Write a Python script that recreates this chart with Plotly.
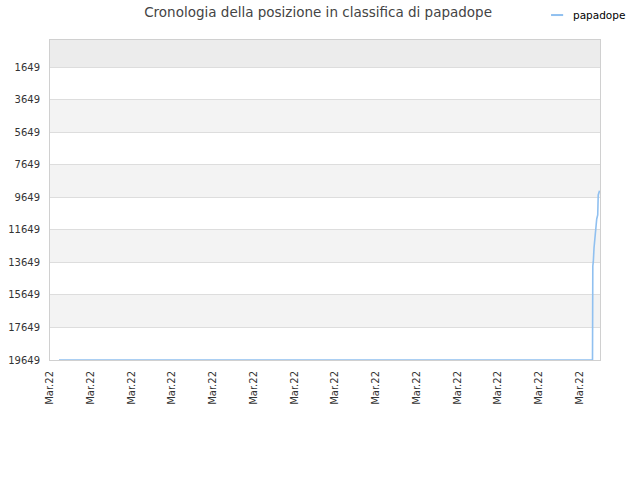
import plotly.graph_objects as go

dates = ["2022-03-01 10:36", "2022-03-27 15:10", "2022-03-27 15:32", "2022-03-27 16:08",
         "2022-03-27 16:57", "2022-03-27 18:07", "2022-03-27 18:57", "2022-03-27 20:08",
         "2022-03-27 21:19", "2022-03-27 21:55", "2022-03-27 23:27"]
ranks = [19649, 19649, 13873, 13609, 12768, 11969, 11459, 10986, 10740, 9512, 9248]
tick_vals = [1649, 3649, 5649, 7649, 9649, 11649, 13649, 15649, 17649, 19649]
tick_text = [str(v) for v in tick_vals]
series_name = "papadope"
line_color = "#90c0f0"

fig = go.Figure()

# alternating bands
shapes = []
shapes.append(dict(type="rect", xref="paper", yref="y", x0=0, x1=1, y0=-10, y1=1649,
                   fillcolor="#ececec", line_width=0, layer="below"))
for i in range(1, len(tick_vals) - 1, 2):
    shapes.append(dict(type="rect", xref="paper", yref="y", x0=0, x1=1,
                       y0=tick_vals[i], y1=tick_vals[i + 1],
                       fillcolor="#f3f3f3", line_width=0, layer="below"))
# legend sample line
shapes.append(dict(type="line", xref="paper", yref="paper", x0=0.911, x1=0.933,
                   y0=1.078, y1=1.078, line=dict(color=line_color, width=2)))

fig.add_trace(go.Scatter(x=dates, y=ranks, mode="lines", name=series_name,
                         line=dict(color=line_color, width=1.6), showlegend=False))

fig.update_layout(
    width=640, height=480,
    margin=dict(l=50, r=40, t=40, b=120, autoexpand=False),
    paper_bgcolor="white", plot_bgcolor="white",
    font=dict(family="DejaVu Sans", size=10, color="#333"),
    title=dict(text="Cronologia della posizione in classifica di papadope",
               x=0.497, xanchor="center", y=0.975, yanchor="middle",
               font=dict(size=13.5, color="#444")),
    showlegend=False,
    shapes=shapes,
    annotations=[dict(text=series_name, xref="paper", yref="paper", x=0.947, y=1.078,
                      xanchor="left", yanchor="middle", showarrow=False,
                      font=dict(size=10.5, color="#000"))],
    xaxis=dict(type="date", range=["2022-03-01 00:00", "2022-03-28 00:00"],
               tick0="2022-03-01", dtick=2 * 86400000, tickformat="%b.%y",
               tickangle=-90, showgrid=False, showline=True, linecolor="#d0d0d0",
               mirror=True, ticks="", tickfont=dict(size=10, color="#333"),
               ticklabelstandoff=6, zeroline=False),
    yaxis=dict(range=[19649, -10], tickvals=tick_vals, ticktext=tick_text,
               showgrid=True, gridcolor="#dddddd", showline=True,
               linecolor="#d0d0d0", mirror=True, ticklabelstandoff=7,
               ticks="", tickfont=dict(size=10, color="#333"), zeroline=False),
)

fig.write_html("out.html", config={"displayModeBar": False},
               post_script="document.body.style.margin='0';document.body.style.overflow='hidden';")
